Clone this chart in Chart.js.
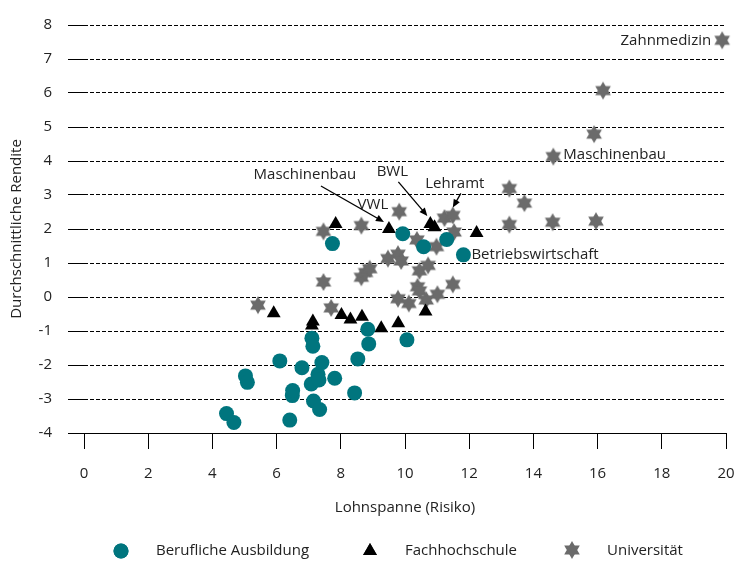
<!DOCTYPE html>
<html>
<head>
<meta charset="utf-8">
<script src="https://cdn.jsdelivr.net/npm/chart.js@4.4.0/dist/chart.umd.min.js"></script>
<style>
  html, body { margin: 0; padding: 0; background: #fff; overflow: hidden; }
  #wrap { width: 736px; height: 562px; position: relative; }
</style>
</head>
<body>
<div id="wrap"><canvas id="renditeChart"></canvas></div>
<script>
// Berufliche Ausbildung
const berufX = [4.44, 4.67, 5.03, 5.09, 6.10, 6.41, 6.49, 6.50, 6.79, 7.08, 7.10, 7.13, 7.15, 7.29, 7.32, 7.34, 7.41, 7.74, 7.81, 8.43, 8.53, 8.84, 8.87, 9.93, 10.06, 10.58, 11.30, 11.82];
const berufY = [-3.43, -3.69, -2.32, -2.51, -1.88, -3.62, -2.90, -2.75, -2.08, -2.56, -1.21, -1.45, -3.06, -2.27, -2.44, -3.31, -1.93, 1.57, -2.39, -2.82, -1.82, -0.95, -1.38, 1.86, -1.26, 1.48, 1.69, 1.24];

// Fachhochschule
const fhX = [5.91, 7.10, 7.13, 7.84, 8.02, 8.30, 8.66, 9.26, 9.50, 9.79, 10.64, 10.79, 10.92, 12.23];
const fhY = [-0.48, -0.84, -0.72, 2.15, -0.53, -0.66, -0.58, -0.92, 2.00, -0.77, -0.43, 2.15, 2.05, 1.88];

// Universität
const uniX = [5.42, 7.46, 7.46, 7.70, 8.64, 8.64, 8.77, 8.90, 9.47, 9.78, 9.88, 9.82, 9.78, 10.12, 10.37, 10.39, 10.45, 10.45, 10.72, 10.66, 10.98, 11.01, 11.23, 11.49, 11.53, 11.49, 13.25, 13.72, 13.25, 14.60, 15.95, 14.62, 15.89, 16.17, 19.88];
const uniY = [-0.24, 1.93, 0.44, -0.32, 2.10, 0.58, 0.72, 0.83, 1.13, 1.26, 1.06, 2.51, -0.05, -0.19, 1.68, 0.30, 0.18, 0.77, 0.93, -0.09, 1.48, 0.08, 2.32, 2.40, 1.91, 0.37, 3.19, 2.76, 2.13, 2.20, 2.23, 4.13, 4.79, 6.07, 7.55];

const seriesLabels = ["Berufliche Ausbildung", "Fachhochschule", "Universität"];

// axis ranges / ticks
const xMin = 0, xMax = 20, xStep = 2;
const yMin = -4, yMax = 8, yStep = 1;

const fontFamily = "'Open Sans', 'DejaVu Sans', sans-serif";
const textColor = "#222";
const tealColor = "#00757e";
const grayColor = "#6b6b6b";

Chart.defaults.font.family = fontFamily;
Chart.defaults.font.size = 15;
Chart.defaults.color = textColor;

// six pointed star used as point style
function makeStar(r, color) {
  const c = document.createElement("canvas");
  const size = Math.ceil(r * 2) + 2;
  c.width = size;
  c.height = size;
  const g = c.getContext("2d");
  g.fillStyle = color;
  const cx = size / 2, cy = size / 2;
  [-90, 90].forEach((start) => {
    g.beginPath();
    for (let k = 0; k < 3; k++) {
      const a = ((start + k * 120) * Math.PI) / 180;
      const px = cx + r * Math.cos(a);
      const py = cy + r * Math.sin(a);
      if (k === 0) g.moveTo(px, py);
      else g.lineTo(px, py);
    }
    g.closePath();
    g.fill();
  });
  return c;
}
const starImg = makeStar(9, grayColor);

const toPoints = (xs, ys) => xs.map((x, i) => ({ x: x, y: ys[i] }));

// labels next to single marks (offsets in px from the mark)
const annotations = [
  { xs: uniX, ys: uniY, i: 34, text: "Zahnmedizin", dx: -11, dy: 0, align: "right" },
  { xs: uniX, ys: uniY, i: 31, text: "Maschinenbau", dx: 10, dy: -2, align: "left" },
  { xs: berufX, ys: berufY, i: 27, text: "Betriebswirtschaft", dx: 8, dy: 0, align: "left" },
  { xs: uniX, ys: uniY, i: 11, text: "VWL", dx: -11, dy: -7, align: "right" },
  { xs: fhX, ys: fhY, i: 8, text: "Maschinenbau", dx: -84, dy: -54, align: "center", arrow: [-68, -43, -5, -7] },
  { xs: fhX, ys: fhY, i: 11, text: "BWL", dx: -38, dy: -52, align: "center", arrow: [-32, -42, -3, -8] },
  { xs: uniX, ys: uniY, i: 23, text: "Lehramt", dx: 2, dy: -32, align: "center", arrow: [8, -22, 0, -8] },
];

const labelPlugin = {
  id: "labelPlugin",
  afterDatasetsDraw(chart) {
    const ctx = chart.ctx;
    const xs = chart.scales.x;
    const ys = chart.scales.y;
    ctx.save();
    ctx.font = "15px " + fontFamily;
    ctx.fillStyle = textColor;
    ctx.strokeStyle = "#000";
    ctx.textBaseline = "middle";
    annotations.forEach((a) => {
      const px = xs.getPixelForValue(a.xs[a.i]);
      const py = ys.getPixelForValue(a.ys[a.i]);
      ctx.textAlign = a.align;
      ctx.fillText(a.text, px + a.dx, py + a.dy);
      if (a.arrow) {
        const x1 = px + a.arrow[0], y1 = py + a.arrow[1];
        const x2 = px + a.arrow[2], y2 = py + a.arrow[3];
        const ang = Math.atan2(y2 - y1, x2 - x1);
        ctx.lineWidth = 1.3;
        ctx.beginPath();
        ctx.moveTo(x1, y1);
        ctx.lineTo(x2 - 5 * Math.cos(ang), y2 - 5 * Math.sin(ang));
        ctx.stroke();
        ctx.beginPath();
        ctx.moveTo(x2, y2);
        ctx.lineTo(x2 - 8 * Math.cos(ang) + 3.5 * Math.sin(ang), y2 - 8 * Math.sin(ang) - 3.5 * Math.cos(ang));
        ctx.lineTo(x2 - 8 * Math.cos(ang) - 3.5 * Math.sin(ang), y2 - 8 * Math.sin(ang) + 3.5 * Math.cos(ang));
        ctx.closePath();
        ctx.fillStyle = "#000";
        ctx.fill();
        ctx.fillStyle = textColor;
      }
    });
    ctx.restore();
  },
  // legend at the bottom
  afterDraw(chart) {
    const ctx = chart.ctx;
    const ly = 551;
    const items = [
      { mx: 121, tx: 156 },
      { mx: 370, tx: 405 },
      { mx: 572, tx: 607 },
    ];
    ctx.save();
    ctx.font = "15px " + fontFamily;
    ctx.textBaseline = "middle";
    ctx.textAlign = "left";
    chart.data.datasets.forEach((ds, k) => {
      const it = items[k];
      if (ds.pointStyle instanceof HTMLCanvasElement) {
        ctx.drawImage(ds.pointStyle, it.mx - ds.pointStyle.width / 2, ly - 1 - ds.pointStyle.height / 2);
      } else {
        Chart.helpers.drawPoint(ctx, { pointStyle: ds.pointStyle, radius: ds.pointRadius, borderWidth: 0 }, it.mx, ly);
        ctx.fillStyle = ds.backgroundColor;
        ctx.fill();
      }
      ctx.fillStyle = textColor;
      ctx.fillText(seriesLabels[k], it.tx, ly);
    });
    ctx.restore();
  },
};

const renditeCtx = document.querySelector("#renditeChart");

function renditeDraw() {
  const renditeChart = new Chart(renditeCtx, {
    type: "scatter",
    data: {
      datasets: [
        {
          label: seriesLabels[0],
          data: toPoints(berufX, berufY),
          pointStyle: "circle",
          pointRadius: 7.5,
          backgroundColor: tealColor,
          borderColor: tealColor,
          borderWidth: 0,
          clip: false,
        },
        {
          label: seriesLabels[1],
          data: toPoints(fhX, fhY),
          pointStyle: "triangle",
          pointRadius: 8,
          backgroundColor: "#000",
          borderColor: "#000",
          borderWidth: 0,
          clip: false,
        },
        {
          label: seriesLabels[2],
          data: toPoints(uniX, uniY),
          pointStyle: starImg,
          pointRadius: 9,
          backgroundColor: grayColor,
          borderColor: grayColor,
          clip: false,
        },
      ],
    },
    options: {
      responsive: true,
      maintainAspectRatio: false,
      animation: false,
      events: [],
      layout: {
        padding: { top: 19, right: 9, bottom: 45, left: 0 },
      },
      plugins: {
        legend: { display: false },
        tooltip: { enabled: false },
      },
      scales: {
        x: {
          type: "linear",
          min: xMin,
          max: xMax,
          ticks: { stepSize: xStep, padding: 16 },
          grid: {
            drawOnChartArea: false,
            drawTicks: true,
            tickLength: 16,
            color: "#000",
          },
          border: { display: true, color: "#000", width: 1 },
          title: { display: true, text: "Lohnspanne (Risiko)", padding: 0 },
          afterFit: (scale) => {
            scale.height = 84;
            // the tick padding should not eat into the plot width
            scale.paddingLeft = 0;
            scale.paddingRight = 0;
          },
        },
        y: {
          min: yMin,
          max: yMax,
          ticks: { stepSize: yStep, padding: 16 },
          grid: {
            color: "#000",
            tickLength: 16,
            tickColor: "#000",
            tickBorderDash: [],
          },
          border: { display: false, dash: [4, 2] },
          title: { display: true, text: "Durchschnittliche Rendite", padding: { top: 8, bottom: 0 } },
          afterFit: (scale) => {
            scale.width = 84;
          },
        },
      },
    },
    plugins: [labelPlugin],
  });
}

renditeDraw();
</script>
</body>
</html>
